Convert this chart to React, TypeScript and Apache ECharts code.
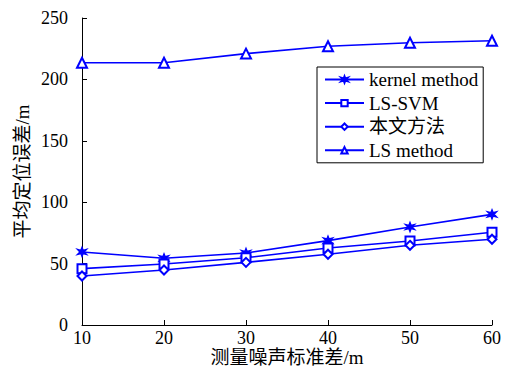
import React, { useEffect, useRef } from "react";
import * as echarts from "echarts";

const xValues = [10, 20, 30, 40, 50, 60];
const kernelMethod = [59.5, 54.3, 58.6, 68.7, 79.8, 90.1];
const lsSvm = [45.9, 49.7, 54.8, 62.7, 68.4, 75.5];
const ourMethod = [39.9, 44.8, 51.0, 57.6, 64.9, 69.8];
const lsMethod = [213.5, 213.5, 221, 227, 229.8, 231.5];
const seriesNames = ["kernel method", "LS-SVM", "本文方法", "LS method"];

const FONT = "'Liberation Serif', 'Times New Roman', 'Noto Sans CJK SC', serif";
const BLUE = "#0000ff";
const STAR =
  "path://M5,0 L6.2,3.2 L9.8,2.2 L7.2,5 L9.8,7.8 L6.2,6.8 L5,10 L3.8,6.8 L0.2,7.8 L2.8,5 L0.2,2.2 L3.8,3.2 Z";

export default function App() {
  const ref = useRef<HTMLDivElement>(null);
  useEffect(() => {
    if (!ref.current) return;
    document.body.style.margin = "0";
    const chart = echarts.init(ref.current, undefined, { renderer: "svg" });
    const mk = (name: string, data: number[], symbol: string, size: number) => ({
      name,
      type: "line",
      data: xValues.map((x, i) => [x, data[i]]),
      symbol,
      symbolSize: size,
      lineStyle: { color: BLUE, width: 1.6 },
      itemStyle: { color: BLUE, borderColor: BLUE, borderWidth: 1.4 },
      showAllSymbol: true,
    });
    chart.setOption({
      animation: false,
      backgroundColor: "#fff",
      textStyle: { fontFamily: FONT },
      grid: { left: 82, right: 17, top: 18, bottom: 42, containLabel: false, outerBoundsMode: "none" },
      legend: {
        orient: "vertical",
        left: 317,
        top: 67,
        data: seriesNames,
        backgroundColor: "#fff",
        borderColor: "#000",
        borderWidth: 1,
        borderRadius: 0,
        padding: [3, 5, 3, 7],
        itemGap: 4.6,
        itemWidth: 39,
        itemHeight: 8,
        textStyle: { fontFamily: FONT, fontSize: 19, lineHeight: 19, color: "#000" },
      },
      xAxis: {
        type: "value",
        min: 10,
        max: 60,
        interval: 10,
        name: "测量噪声标准差/m",
        nameLocation: "middle",
        nameGap: 23,
        nameMoveOverlap: false,
        nameTextStyle: { fontFamily: FONT, fontSize: 19, lineHeight: 19, color: "#000" },
        axisLine: { lineStyle: { color: "#000", width: 1 } },
        axisTick: { inside: true, length: 5, lineStyle: { color: "#000" } },
        axisLabel: { fontFamily: FONT, fontSize: 18, lineHeight: 18, color: "#000", margin: 4 },
        splitLine: { show: false },
      },
      yAxis: {
        type: "value",
        min: 0,
        max: 250,
        interval: 50,
        name: "平均定位误差/m",
        nameLocation: "middle",
        nameGap: 50,
        nameMoveOverlap: false,
        nameTextStyle: { fontFamily: FONT, fontSize: 19, lineHeight: 19, color: "#000" },
        axisLine: { show: true, lineStyle: { color: "#000", width: 1 } },
        axisTick: { show: true, inside: true, length: 5, lineStyle: { color: "#000" } },
        axisLabel: { fontFamily: FONT, fontSize: 18, lineHeight: 18, color: "#000", margin: 14 },
        splitLine: { show: false },
      },
      series: [
        mk(seriesNames[0], kernelMethod, STAR, 9),
        mk(seriesNames[1], lsSvm, "emptyRect", 9),
        mk(seriesNames[2], ourMethod, "emptyDiamond", 9),
        mk(seriesNames[3], lsMethod, "emptyTriangle", 10),
      ],
    });
    return () => chart.dispose();
  }, []);
  return <div ref={ref} style={{ width: 509, height: 367 }} />;
}
